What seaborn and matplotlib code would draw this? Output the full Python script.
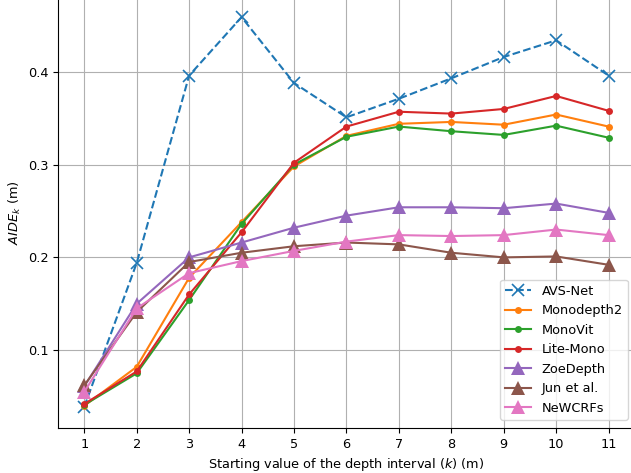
import matplotlib
matplotlib.use("Agg")
import matplotlib.pyplot as plt
import pandas as pd
import seaborn as sns

k_values = [1, 2, 3, 4, 5, 6, 7, 8, 9, 10, 11]

avs_net = [0.039, 0.194, 0.396, 0.459, 0.388, 0.351, 0.371, 0.393, 0.416, 0.434, 0.396]
monodepth2 = [0.040, 0.082, 0.178, 0.238, 0.298, 0.331, 0.344, 0.346, 0.343, 0.354, 0.341]
monovit = [0.041, 0.075, 0.154, 0.236, 0.300, 0.330, 0.341, 0.336, 0.332, 0.342, 0.329]
lite_mono = [0.042, 0.077, 0.160, 0.227, 0.302, 0.341, 0.357, 0.355, 0.360, 0.374, 0.358]
zoedepth = [0.061, 0.150, 0.200, 0.216, 0.232, 0.245, 0.254, 0.254, 0.253, 0.258, 0.248]
jun_et_al = [0.062, 0.141, 0.195, 0.205, 0.212, 0.216, 0.214, 0.205, 0.200, 0.201, 0.192]
newcrfs = [0.055, 0.145, 0.183, 0.196, 0.207, 0.217, 0.224, 0.223, 0.224, 0.230, 0.224]

series = [
    ("AVS-Net", avs_net, "#1f77b4", "x", "--", 9),
    ("Monodepth2", monodepth2, "#ff7f0e", "o", "-", 5),
    ("MonoVit", monovit, "#2ca02c", "o", "-", 5),
    ("Lite-Mono", lite_mono, "#d62728", "o", "-", 5),
    ("ZoeDepth", zoedepth, "#9467bd", "^", "-", 10),
    ("Jun et al.", jun_et_al, "#8c564b", "^", "-", 10),
    ("NeWCRFs", newcrfs, "#e377c2", "^", "-", 10),
]


def main() -> None:
    plt.rcParams["font.size"] = 9.3
    fig = plt.figure(figsize=(6.31, 4.73), dpi=100)
    # the original is cropped: top and right spines fall just outside
    ax = fig.add_axes([0.092, 0.095, 0.914, 0.91])

    for name, values, color, marker, ls, ms in series:
        df = pd.DataFrame({"k": k_values, "aide": values})
        sns.lineplot(
            data=df,
            x="k",
            y="aide",
            color=color,
            marker=marker,
            linestyle=ls,
            markersize=ms,
            markeredgecolor=color,
            markeredgewidth=1.2 if marker == "x" else 0,
            linewidth=1.5,
            label=name,
            ax=ax,
        )

    ax.set_xlim(0.5, 11.5)
    ax.set_ylim(0.016, 0.48)
    ax.set_xticks(k_values)
    ax.set_yticks([0.1, 0.2, 0.3, 0.4])
    ax.grid(True, color="#b0b0b0", linewidth=0.8)
    ax.set_xlabel("Starting value of the depth interval ($k$) (m)", labelpad=3.5)
    ax.set_ylabel("$AIDE_k$ (m)", labelpad=3.5)
    ax.legend(loc="lower right", bbox_to_anchor=(0.999, 0.004))

    fig.savefig("out.png", dpi=100)
    plt.close(fig)


if __name__ == "__main__":
    main()
